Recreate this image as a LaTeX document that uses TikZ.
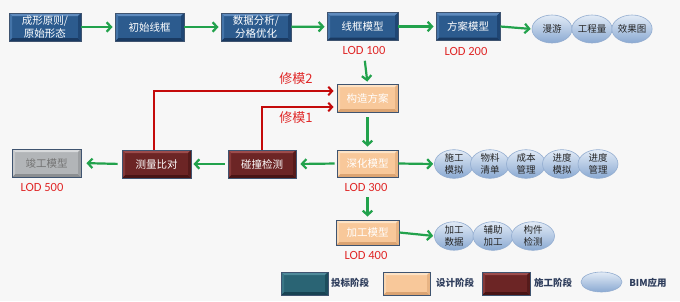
\documentclass[tikz,border=0pt]{standalone}
\usepackage{fontspec}
\newfontfamily\cjk{Noto Sans CJK SC}
\newfontfamily\lodf{Carlito}
\usetikzlibrary{arrows.meta,shapes.geometric,calc}
\definecolor{bordc}{HTML}{3F5470}
\definecolor{blu}{HTML}{2C5B8E}\definecolor{bluT}{HTML}{5F8BBE}\definecolor{bluB}{HTML}{1A3A62}\definecolor{bluL}{HTML}{4474A8}\definecolor{bluR}{HTML}{1F4674}
\definecolor{tea}{HTML}{2A6474}\definecolor{teaT}{HTML}{4F8A9A}\definecolor{teaB}{HTML}{174252}\definecolor{teaL}{HTML}{3A7686}\definecolor{teaR}{HTML}{1C4D5C}
\definecolor{pch}{HTML}{F8C89A}\definecolor{pchT}{HTML}{FDE3C6}\definecolor{pchB}{HTML}{DCA472}\definecolor{pchL}{HTML}{FAD6B0}\definecolor{pchR}{HTML}{E8B484}
\definecolor{drd}{HTML}{6C2525}\definecolor{drdT}{HTML}{9C4C4C}\definecolor{drdB}{HTML}{481414}\definecolor{drdL}{HTML}{853838}\definecolor{drdR}{HTML}{561B1B}
\definecolor{gry}{HTML}{B2B5B8}\definecolor{gryT}{HTML}{D8DADC}\definecolor{gryB}{HTML}{8B8E91}\definecolor{gryL}{HTML}{C6C8CA}\definecolor{gryR}{HTML}{9C9FA2}
\definecolor{garr}{HTML}{22A24C}
\definecolor{rarr}{HTML}{C40A0A}
\definecolor{rtxt}{HTML}{E02828}
\definecolor{elT}{HTML}{E2EBF6}\definecolor{elB}{HTML}{8AA9D2}\definecolor{elD}{HTML}{93ADD0}
\definecolor{legt}{HTML}{2E3D5C}
\tikzset{
  bev/.style={draw=bordc, line width=0.8pt, fill=#1, inner sep=0pt, align=center,
    text=white, font=\cjk\fontsize{10.5}{12.5}\selectfont,
    path picture={
      \coordinate (qa) at (path picture bounding box.south west);
      \coordinate (qb) at (path picture bounding box.north east);
      \coordinate (qc) at (qa|-qb);
      \coordinate (qd) at (qa-|qb);
      \fill[#1T] (qc) -- (qb) -- ($(qb)+(-3pt,-3pt)$) -- ($(qc)+(3pt,-3pt)$) -- cycle;
      \fill[#1B] (qa) -- (qd) -- ($(qd)+(-3pt,3pt)$) -- ($(qa)+(3pt,3pt)$) -- cycle;
      \fill[#1L] (qa) -- (qc) -- ($(qc)+(3pt,-3pt)$) -- ($(qa)+(3pt,3pt)$) -- cycle;
      \fill[#1R] (qd) -- (qb) -- ($(qb)+(-3pt,-3pt)$) -- ($(qd)+(-3pt,3pt)$) -- cycle;
    }},
  sz/.style 2 args={minimum width=#1, minimum height=#2},
  bim/.style={ellipse, draw=elD, line width=0.6pt, top color=elT, bottom color=elB,
    inner sep=0pt, align=center, text=black!85, font=\cjk\fontsize{9.5}{11.5}\selectfont},
  lod/.style={text=rtxt, font=\lodf\fontsize{12.5}{13}\selectfont},
  xiu/.style={text=rtxt, font=\cjk\fontsize{13}{14}\selectfont},
  leg/.style={text=legt, font=\cjk\bfseries\fontsize{9.5}{11}\selectfont},
  garrow/.style={draw=garr, line width=2.2pt, -{Straight Barb[length=4.5pt,width=9.5pt]}},
  rarrow/.style={draw=rarr, line width=2pt, -{Straight Barb[length=4pt,width=8.5pt]}},
}
\begin{document}
\begin{tikzpicture}[x=1pt,y=-1pt]
\fill[white!97!black] (0,0) rectangle (680,301);
\useasboundingbox (0,0) rectangle (680,301);

% top row
\node[bev=blu, sz={72}{28}] (n1) at (45,27) {成形原则/\\原始形态};
\node[bev=blu, sz={69}{28}] (n2) at (149.5,27) {初始线框};
\node[bev=blu, sz={70}{28}] (n3) at (256,27) {数据分析/\\分格优化};
\node[bev=blu, sz={71}{28}] (n4) at (362.5,26.5) {线框模型};
\node[bev=blu, sz={64}{28}] (n5) at (468,26.5) {方案模型};
\node[bim, sz={40}{28}] (e1) at (552,29) {漫游};
\node[bim, sz={40}{28}] (e2) at (592,29) {工程量};
\node[bim, sz={40}{28}] (e3) at (632,29) {效果图};
\node[lod] (l1) at (364,50) {LOD 100};
\node[lod] (l2) at (466,51) {LOD 200};

\draw[garrow, shorten >=2pt] (n1) -- (n2);
\draw[garrow, shorten >=2pt] (n2) -- (n3);
\draw[garrow, shorten >=2pt] (n3) -- (n4);
\draw[garrow, shorten >=2pt] (n4) -- (n5);
\draw[garrow, shorten >=1pt] (n5.east) -- (e1.west);

% middle
\node[bev=pch, sz={61}{28}] (n6) at (367.5,98) {构造方案};
\node[bev=pch, sz={61}{27}] (n7) at (367.5,163.5) {深化模型};
\node[bev=pch, sz={63}{25}] (n8) at (367.5,232.5) {加工模型};
\node[bev=gry, sz={69}{28}, text=black!55] (n9) at (46.5,163) {竣工模型};
\node[bev=drd, sz={69}{28}] (n10) at (156.5,164) {测量比对};
\node[bev=drd, sz={68}{28}] (n11) at (262,164) {碰撞检测};
\node[lod] (l3) at (366,187) {LOD 300};
\node[lod] (l4) at (366,255) {LOD 400};
\node[lod] (l5) at (42,187) {LOD 500};

\draw[garrow, shorten <=20pt, shorten >=2pt] (n4.south) -- (n6.north);
\draw[garrow, shorten <=5pt, shorten >=3pt] (n6.south) -- (n7.north);
\draw[garrow, shorten <=20pt, shorten >=3pt] (n7.south) -- (n8.north);
\draw[garrow, shorten <=2pt, shorten >=4pt] (n7.west) -- (n11.east);
\draw[garrow, shorten <=3pt, shorten >=2pt] (n11.west) -- (n10.east);
\draw[garrow, shorten <=4pt, shorten >=5pt] (n10.west) -- (n9.east);

\draw[rarrow, shorten >=3pt] ($(n10.north)+(-3,0)$) |- ($(n6.west)+(0,-7)$);
\draw[rarrow, shorten >=3pt] (n11.north) |- ($(n6.west)+(0,9)$);
\node[xiu] (x2) at (296,79) {修模2};
\node[xiu] (x1) at (296,118) {修模1};

% row 3 BIM
\node[bim, sz={39}{26}] (f1) at (454,164) {施工\\模拟};
\node[bim, sz={39}{26}] (f2) at (490,164) {物料\\清单};
\node[bim, sz={39}{26}] (f3) at (526,164) {成本\\管理};
\node[bim, sz={39}{26}] (f4) at (562,164) {进度\\模拟};
\node[bim, sz={40}{26}] (f5) at (598,164) {进度\\管理};
\draw[garrow, shorten >=1pt] (n7.east) -- (f1.west);

% row 4 BIM
\node[bim, sz={39}{28}] (g1) at (454,236) {加工\\数据};
\node[bim, sz={40}{28}] (g2) at (493,236) {辅助\\加工};
\node[bim, sz={43}{28}] (g3) at (533,236) {构件\\检测};
\draw[garrow, shorten >=1pt] (n8.east) -- (g1.west);

% legend
\node[bev=tea, sz={47}{23}] (k1) at (304.5,283.5) {};
\node[leg] (t1) at (350,283) {投标阶段};
\node[bev=pch, sz={47}{23}] (k2) at (406.5,283.5) {};
\node[leg] (t2) at (455,283) {设计阶段};
\node[bev=drd, sz={48}{23}] (k3) at (506,283.5) {};
\node[leg] (t3) at (553,283) {施工阶段};
\node[bim, sz={41}{20}] (k4) at (601.5,282) {};
\node[leg] (t4) at (648,283) {BIM应用};
\end{tikzpicture}
\end{document}
